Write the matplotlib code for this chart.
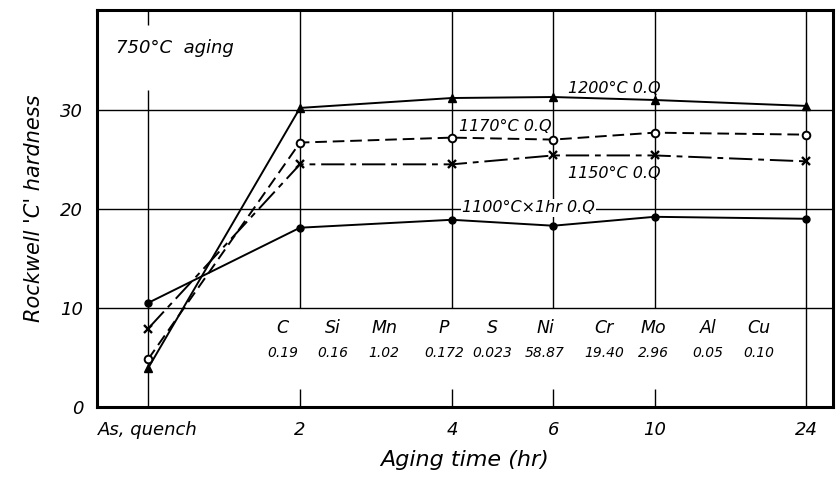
import matplotlib
matplotlib.use("Agg")
from matplotlib import pyplot as plt

plt.rcParams['font.family'] = ['DejaVu Sans']
plt.rcParams['font.style'] = 'italic'

# aging time categories
times = ['As, quench', '2', '4', '6', '10', '24']

# Rockwell C hardness for each quench treatment
hrc_1200 = [3.9, 30.2, 31.2, 31.3, 31.0, 30.4]
hrc_1170 = [4.8, 26.7, 27.2, 27.0, 27.7, 27.5]
hrc_1150 = [7.9, 24.5, 24.5, 25.4, 25.4, 24.8]
hrc_1100 = [10.5, 18.1, 18.9, 18.3, 19.2, 19.0]

# chemical composition (wt%)
elements = ['C', 'Si', 'Mn', 'P', 'S', 'Ni', 'Cr', 'Mo', 'Al', 'Cu']
amounts = ['0.19', '0.16', '1.02', '0.172', '0.023', '58.87', '19.40', '2.96', '0.05', '0.10']

# uneven spacing of the time axis on the original sheet
xpos = [0, 1.5, 3, 4, 5, 6.5]

fig = plt.figure(figsize=(8.37, 4.95), dpi=100)
ax = fig.add_axes([0.116, 0.178, 0.879, 0.802])
ax.set_xlim(-0.503, 6.76)
ax.set_ylim(0, 40.1)

# grid
for yv in [10, 20, 30]:
    ax.axhline(yv, color='black', lw=1.0, zorder=1)
ax.vlines(xpos[0], 0, 32.0, color='black', lw=1.0, zorder=1)
ax.vlines(xpos[0], 38.6, 40.1, color='black', lw=1.0, zorder=1)
for xv in xpos[1:5]:
    ax.vlines(xv, 10, 40.1, color='black', lw=1.0, zorder=1)
    ax.vlines(xv, 0, 1.8, color='black', lw=1.0, zorder=1)
ax.vlines(xpos[5], 0, 40.1, color='black', lw=1.0, zorder=1)

ax.plot(xpos, hrc_1200, color='black', lw=1.4, marker='^', ms=6, zorder=3)
ax.plot(xpos, hrc_1170, color='black', lw=1.4, ls=(0, (6, 3)), marker='o', ms=5.5,
        mfc='white', mew=1.4, zorder=3)
ax.plot(xpos, hrc_1150, color='black', lw=1.4, ls=(0, (12, 3, 3, 3)), marker='x', ms=6,
        mew=1.7, zorder=3)
ax.plot(xpos, hrc_1100, color='black', lw=1.4, marker='o', ms=5, zorder=3)

tsz = 11.5
ax.text(-0.32, 36.3, '750°C  aging', fontsize=13, ha='left', va='center')
ax.text(4.15, 32.2, '1200°C 0.Q', fontsize=tsz, ha='left', va='center')
ax.text(3.07, 28.3, '1170°C 0.Q', fontsize=tsz, ha='left', va='center')
ax.text(4.15, 23.6, '1150°C 0.Q', fontsize=tsz, ha='left', va='center')
ax.text(3.1, 20.1, '1100°C×1hr 0.Q', fontsize=tsz, ha='left', va='center',
        bbox=dict(facecolor='white', edgecolor='none', pad=1))

# composition table
el_x = [1.33, 1.82, 2.33, 2.92, 3.4, 3.92, 4.5, 4.99, 5.53, 6.03]
for ex, el, am in zip(el_x, elements, amounts):
    ax.text(ex, 8.0, el, fontsize=12.5, ha='center', va='center')
    ax.text(ex, 5.4, am, fontsize=10, ha='center', va='center')

ax.set_xticks(xpos)
ax.set_xticklabels(times, fontsize=13)
ax.set_yticks([0, 10, 20, 30])
ax.set_yticklabels(['0', '10', '20', '30'], fontsize=13)
ax.tick_params(length=0, pad=10)
ax.set_xlabel('Aging time (hr)', fontsize=16, labelpad=8)
ax.set_ylabel("Rockwell 'C' hardness", fontsize=15, labelpad=12)

for s in ax.spines.values():
    s.set_linewidth(2.2)

fig.savefig('out.png', dpi=100)
